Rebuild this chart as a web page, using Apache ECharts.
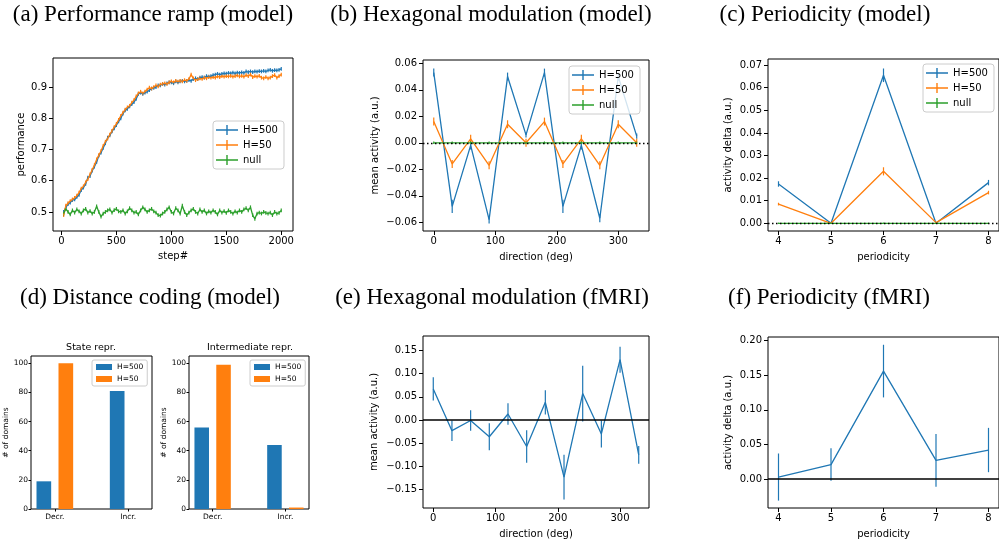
<!DOCTYPE html>
<html>
<head>
<meta charset="utf-8">
<script src="https://cdn.jsdelivr.net/npm/echarts@6/dist/echarts.min.js"></script>
<style>
html,body{margin:0;padding:0;background:#fff;}
#chart{width:999px;height:540px;}
</style>
</head>
<body>
<div id="chart"></div>
<script>
// ---- (a) performance ramp ----
var steps = [20,40,60,80,100,120,140,160,180,200,220,240,260,280,300,320,340,360,380,400,
  420,440,460,480,500,520,540,560,580,600,620,640,660,680,700,720,740,760,780,800,
  820,840,860,880,900,920,940,960,980,1000,1020,1040,1060,1080,1100,1120,1140,1160,1180,1200,
  1220,1240,1260,1280,1300,1320,1340,1360,1380,1400,1420,1440,1460,1480,1500,1520,1540,1560,1580,1600,
  1620,1640,1660,1680,1700,1720,1740,1760,1780,1800,1820,1840,1860,1880,1900,1920,1940,1960,1980,2000];
var perfH500 = [0.500,0.515,0.525,0.530,0.538,0.540,0.548,0.555,0.570,0.578,0.590,0.610,0.615,0.632,0.645,0.660,0.680,0.690,0.705,0.720,
  0.738,0.745,0.758,0.768,0.778,0.790,0.800,0.815,0.825,0.830,0.838,0.845,0.852,0.862,0.878,0.882,0.878,0.882,0.885,0.890,
  0.895,0.897,0.900,0.905,0.905,0.910,0.908,0.912,0.915,0.915,0.912,0.918,0.915,0.918,0.920,0.918,0.920,0.922,0.920,0.925,
  0.928,0.925,0.930,0.932,0.930,0.935,0.933,0.935,0.938,0.940,0.942,0.940,0.942,0.944,0.943,0.945,0.944,0.946,0.944,0.946,
  0.945,0.947,0.945,0.950,0.948,0.950,0.948,0.950,0.949,0.951,0.950,0.952,0.950,0.953,0.955,0.952,0.954,0.953,0.955,0.958];
var perfH50 = [0.490,0.520,0.528,0.535,0.540,0.545,0.552,0.562,0.575,0.582,0.595,0.605,0.620,0.635,0.650,0.668,0.682,0.695,0.712,0.725,
  0.735,0.748,0.760,0.772,0.782,0.795,0.808,0.818,0.828,0.835,0.840,0.850,0.858,0.870,0.880,0.885,0.880,0.885,0.892,0.898,
  0.895,0.900,0.905,0.902,0.908,0.910,0.912,0.910,0.915,0.918,0.915,0.920,0.917,0.920,0.918,0.922,0.920,0.925,0.940,0.928,
  0.922,0.925,0.928,0.926,0.930,0.928,0.932,0.930,0.932,0.930,0.934,0.932,0.935,0.933,0.935,0.934,0.936,0.933,0.935,0.937,
  0.934,0.936,0.933,0.938,0.935,0.940,0.932,0.935,0.933,0.936,0.930,0.928,0.932,0.928,0.930,0.935,0.938,0.930,0.935,0.940];
var perfNull = [0.495,0.510,0.500,0.492,0.505,0.498,0.508,0.502,0.495,0.505,0.510,0.498,0.503,0.495,0.500,0.518,0.500,0.485,0.495,0.500,
  0.505,0.508,0.498,0.506,0.510,0.502,0.500,0.505,0.495,0.502,0.512,0.505,0.498,0.500,0.492,0.505,0.515,0.508,0.500,0.505,
  0.510,0.502,0.498,0.490,0.488,0.495,0.500,0.508,0.515,0.500,0.495,0.512,0.505,0.495,0.520,0.500,0.490,0.498,0.505,0.510,
  0.500,0.495,0.508,0.500,0.505,0.495,0.502,0.498,0.505,0.500,0.492,0.505,0.498,0.503,0.497,0.505,0.500,0.495,0.502,0.498,
  0.505,0.500,0.508,0.512,0.505,0.515,0.490,0.478,0.495,0.498,0.495,0.500,0.497,0.495,0.498,0.490,0.500,0.495,0.497,0.505];
var perfErr = 0.006;

// ---- (b) hexagonal modulation, model ----
var directions = [0,30,60,90,120,150,180,210,240,270,300,330];
var hexH500 = [0.053,-0.048,-0.002,-0.058,0.050,0.006,0.053,-0.048,-0.002,-0.057,0.050,0.005];
var hexH500Err = [0.003,0.005,0.003,0.003,0.003,0.002,0.003,0.005,0.003,0.003,0.003,0.002];
var hexH50 = [0.016,-0.016,0.003,-0.017,0.014,0.000,0.016,-0.016,0.003,-0.017,0.014,0.000];
var hexH50Err = [0.003,0.003,0.003,0.003,0.003,0.003,0.003,0.003,0.003,0.003,0.003,0.003];
var hexNull = [0,0,0,0,0,0,0,0,0,0,0,0];
var hexNullErr = [0.001,0.001,0.001,0.001,0.001,0.001,0.001,0.001,0.001,0.001,0.001,0.001];

// ---- (c) periodicity, model ----
var periods = [4,5,6,7,8];
var perH500 = [0.0174,0.0,0.0655,0.0,0.0180];
var perH500Err = [0.0012,0.0002,0.003,0.0002,0.0012];
var perH50 = [0.0085,0.0,0.0230,0.0003,0.0136];
var perH50Err = [0.0006,0.0002,0.0018,0.0002,0.0008];
var perNull = [0,0,0,0,0];
var perNullErr = [0.0003,0.0003,0.0003,0.0003,0.0003];

// ---- (d) distance coding ----
var distCats = ['Decr.','Incr.'];
var stateH500 = [19,81];
var stateH50 = [100,0];
var interH500 = [56,44];
var interH50 = [99,1];

// ---- (e) hexagonal modulation, fMRI ----
var hexFmri = [0.067,-0.023,-0.001,-0.036,0.013,-0.057,0.038,-0.123,0.057,-0.030,0.130,-0.075];
var hexFmriErr = [0.025,0.022,0.022,0.029,0.023,0.035,0.026,0.048,0.060,0.029,0.028,0.019];

// ---- (f) periodicity, fMRI ----
var perFmri = [0.003,0.021,0.156,0.027,0.042];
var perFmriErr = [0.034,0.0235,0.038,0.038,0.032];

// ---- tick labels ----
var ticksStep = [0,500,1000,1500,2000];
var ticksPerf = [0.5,0.6,0.7,0.8,0.9];
var ticksDir = [0,100,200,300];
var ticksHexModel = [-0.06,-0.04,-0.02,0,0.02,0.04,0.06];
var ticksPeriod = [4,5,6,7,8];
var ticksPerModel = [0,0.01,0.02,0.03,0.04,0.05,0.06,0.07];
var ticksDomains = [0,20,40,60,80,100];
var ticksDist = [0,1];
var ticksHexFmri = [-0.15,-0.10,-0.05,0,0.05,0.10,0.15];
var ticksPerFmri = [0,0.05,0.10,0.15,0.20];

var C = {blue:'#1f77b4', orange:'#ff7f0e', green:'#2ca02c'};
var FONT = 'DejaVu Sans';
var SERIF = '"Liberation Serif", "DejaVu Serif", serif';

function fmt(d){
    return function(v){
        var s = Math.abs(v).toFixed(d);
        return (v < -1e-9 ? '\u2212' : '') + s;
    };
}

var grids = [
    {left:53, top:58, width:240, height:173},   // a
    {left:423, top:60, width:226, height:171},  // b
    {left:768, top:59, width:235, height:172},  // c
    {left:31, top:356, width:121, height:153},  // d left
    {left:189, top:356, width:120, height:153}, // d right
    {left:423, top:336, width:226, height:172}, // e
    {left:768, top:337, width:235, height:171}  // f
].map(function(g){
    g.show = true;
    g.borderColor = '#000';
    g.borderWidth = 1;
    g.backgroundColor = 'transparent';
    return g;
});

function axis(gi, min, max, ticks, fmtFn, name, nameGap, fs, tickLen, margin){
    return {
        type:'value', gridIndex:gi, min:min, max:max,
        splitLine:{show:false},
        axisLine:{show:false, onZero:false},
        axisTick:{show:true, inside:false, length:tickLen, lineStyle:{color:'#000', width:1}, customValues:ticks},
        axisLabel:{customValues:ticks, formatter:fmtFn, color:'#000', fontSize:fs, fontFamily:FONT, margin:margin},
        name:name, nameLocation:'middle', nameGap:nameGap,
        nameTextStyle:{color:'#000', fontSize:fs, fontFamily:FONT}
    };
}

var distFmt = function(v){ return distCats[Math.round(v)]; };

var xAxes = [
    axis(0, -77, 2107, ticksStep, fmt(0), 'step#', 20, 10, 4, 5),
    axis(1, -17.5, 350, ticksDir, fmt(0), 'direction (deg)', 21, 10, 4, 5),
    axis(2, 3.8, 8.2, ticksPeriod, fmt(0), 'periodicity', 21, 10, 4, 5),
    axis(3, -0.325, 1.325, ticksDist, distFmt, '', 10, 7.5, 2.5, 4),
    axis(4, -0.325, 1.325, ticksDist, distFmt, '', 10, 7.5, 2.5, 4),
    axis(5, -16.5, 346.5, ticksDir, fmt(0), 'direction (deg)', 21, 10, 4, 5),
    axis(6, 3.8, 8.2, ticksPeriod, fmt(0), 'periodicity', 21, 10, 4, 5)
];
var yAxes = [
    axis(0, 0.439, 0.993, ticksPerf, fmt(1), 'performance', 27, 10, 4, 6),
    axis(1, -0.0666, 0.0625, ticksHexModel, fmt(2), 'mean activity (a.u.)', 43, 10, 4, 6),
    axis(2, -0.0034, 0.0727, ticksPerModel, fmt(2), 'activity delta (a.u.)', 35, 10, 4, 6),
    axis(3, 0, 105, ticksDomains, fmt(0), '# of domains', 21, 7.5, 2.5, 3),
    axis(4, 0, 105, ticksDomains, fmt(0), '# of domains', 21, 7.5, 2.5, 3),
    axis(5, -0.1895, 0.1809, ticksHexFmri, fmt(2), 'mean activity (a.u.)', 44, 10, 4, 6),
    axis(6, -0.0417, 0.2052, ticksPerFmri, fmt(2), 'activity delta (a.u.)', 35, 10, 4, 6)
];

function lineSeries(name, gi, xs, ys, color){
    return {
        type:'line', name:name, xAxisIndex:gi, yAxisIndex:gi,
        data:xs.map(function(x, i){ return [x, ys[i]]; }),
        symbol:'none', animation:false, z:3,
        lineStyle:{color:color, width:1.3}, itemStyle:{color:color}
    };
}

function errSeries(name, gi, xs, ys, es, color){
    return {
        type:'custom', name:name + ' err', xAxisIndex:gi, yAxisIndex:gi, silent:true, z:3,
        encode:{x:0, y:1},
        data:xs.map(function(x, i){ return [x, ys[i], Array.isArray(es) ? es[i] : es]; }),
        renderItem:function(params, api){
            var x = api.value(0), y = api.value(1), e = api.value(2);
            var a = api.coord([x, y - e]), b = api.coord([x, y + e]);
            return {type:'line', shape:{x1:a[0], y1:a[1], x2:b[0], y2:b[1]}, style:{stroke:color, lineWidth:1.2}};
        }
    };
}

function barSeries(name, gi, vals, offset, color){
    return {
        type:'custom', name:name, xAxisIndex:gi, yAxisIndex:gi, silent:true,
        encode:{x:0, y:1},
        data:vals.map(function(v, i){ return [i + offset, v]; }),
        renderItem:function(params, api){
            var x = api.value(0), v = api.value(1);
            var p0 = api.coord([x - 0.1, v]), p1 = api.coord([x + 0.1, 0]);
            return {type:'rect', shape:{x:p0[0], y:p0[1], width:p1[0] - p0[0], height:p1[1] - p0[1]}, style:{fill:color}};
        }
    };
}

function zeroLine(gi, type, width){
    return {
        type:'line', name:'zero' + gi, xAxisIndex:gi, yAxisIndex:gi, data:[], symbol:'none', z:2,
        markLine:{silent:true, symbol:'none', label:{show:false}, animation:false,
            lineStyle:{color:'#000', type:type, width:width}, data:[{yAxis:0}]}
    };
}

var series = [];
function withErr(name, gi, xs, ys, es, color){
    series.push(lineSeries(name, gi, xs, ys, color));
    series.push(errSeries(name, gi, xs, ys, es, color));
}

// (a)
withErr('H=500', 0, steps, perfH500, perfErr, C.blue);
withErr('H=50', 0, steps, perfH50, perfErr, C.orange);
withErr('null', 0, steps, perfNull, perfErr, C.green);
// (b)
series.push(zeroLine(1, [1.5, 2.5], 1.3));
withErr('H=500', 1, directions, hexH500, hexH500Err, C.blue);
withErr('H=50', 1, directions, hexH50, hexH50Err, C.orange);
withErr('null', 1, directions, hexNull, hexNullErr, C.green);
// (c)
series.push(zeroLine(2, [1.5, 2.5], 1.3));
withErr('H=500', 2, periods, perH500, perH500Err, C.blue);
withErr('H=50', 2, periods, perH50, perH50Err, C.orange);
withErr('null', 2, periods, perNull, perNullErr, C.green);
// (d)
series.push(barSeries('H=500', 3, stateH500, -0.15, C.blue));
series.push(barSeries('H=50', 3, stateH50, 0.15, C.orange));
series.push(barSeries('H=500', 4, interH500, -0.15, C.blue));
series.push(barSeries('H=50', 4, interH50, 0.15, C.orange));
// (e)
series.push(zeroLine(5, 'solid', 1.5));
withErr('fmri hex', 5, directions, hexFmri, hexFmriErr, C.blue);
// (f)
series.push(zeroLine(6, 'solid', 1.5));
withErr('fmri per', 6, periods, perFmri, perFmriErr, C.blue);

var errIcon = 'path://M0,4.2h22v1.6h-22z M10.3,0h1.4v10h-1.4z';
function lineLegend(left, top){
    return {
        data:['H=500','H=50','null'], orient:'vertical', left:left, top:top,
        icon:errIcon, itemWidth:22, itemHeight:10, itemGap:5,
        padding:[4, 6, 4, 3], selectedMode:false,
        backgroundColor:'rgba(255,255,255,0.8)', borderColor:'#ccc', borderWidth:1, borderRadius:3,
        textStyle:{fontSize:10, fontFamily:FONT, color:'#000'}
    };
}
function barLegend(left, top){
    return {
        data:['H=500','H=50'], orient:'vertical', left:left, top:top,
        icon:'rect', itemWidth:16, itemHeight:6, itemGap:4,
        padding:[3, 4, 3, 4], selectedMode:false,
        backgroundColor:'rgba(255,255,255,0.8)', borderColor:'#ccc', borderWidth:1, borderRadius:2,
        textStyle:{fontSize:7.5, fontFamily:FONT, color:'#000'}
    };
}

function txt(x, y, s, font){
    return {type:'text', x:x, y:y, silent:true,
        style:{text:s, font:font, fill:'#000', align:'center', verticalAlign:'middle'}};
}
var titleFont = '23px ' + SERIF;
var subFont = '9.5px "DejaVu Sans"';

var chart = echarts.init(document.getElementById('chart'), null, {renderer:'canvas'});
chart.setOption({
    animation:false,
    backgroundColor:'#fff',
    grid:grids,
    xAxis:xAxes,
    yAxis:yAxes,
    legend:[lineLegend(213, 121), lineLegend(569, 66), lineLegend(923, 64), barLegend(92, 360), barLegend(250, 360)],
    series:series,
    graphic:[
        txt(153, 15, '(a) Performance ramp (model)', titleFont),
        txt(491, 15, '(b) Hexagonal modulation (model)', titleFont),
        txt(825, 15, '(c) Periodicity (model)', titleFont),
        txt(150, 298, '(d) Distance coding (model)', titleFont),
        txt(492, 298, '(e) Hexagonal modulation (fMRI)', titleFont),
        txt(829, 298, '(f) Periodicity (fMRI)', titleFont),
        txt(91, 348, 'State repr.', subFont),
        txt(250, 348, 'Intermediate repr.', subFont)
    ]
});
</script>
</body>
</html>
